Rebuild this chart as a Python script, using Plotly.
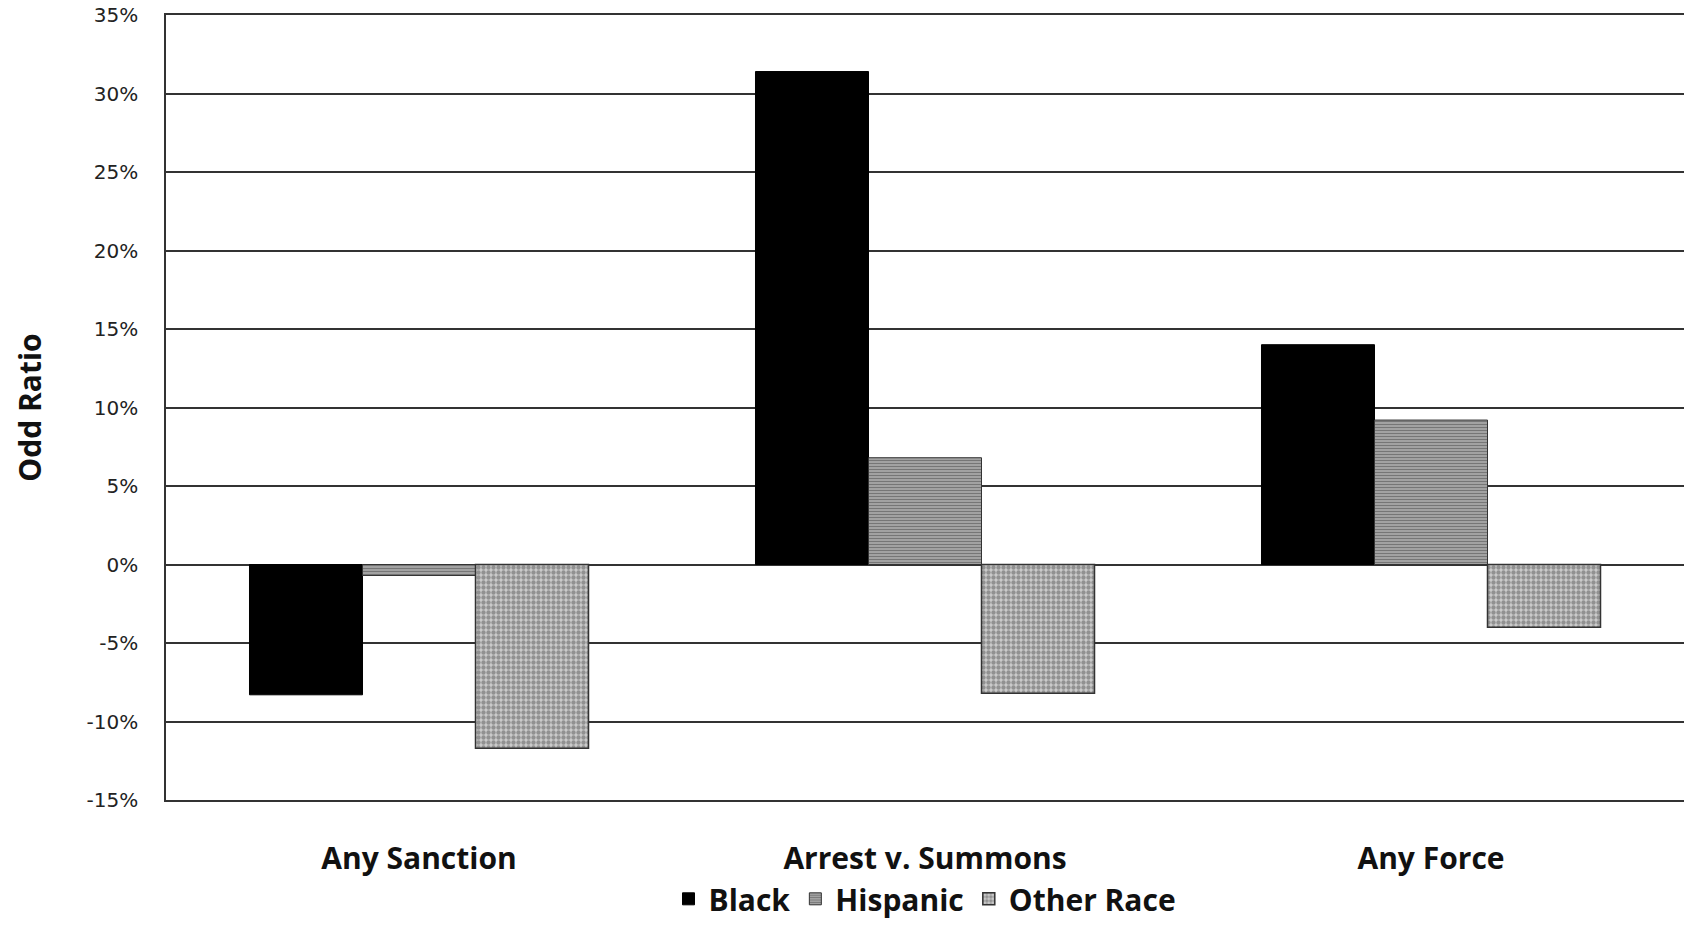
import plotly.graph_objects as go

categories = ["Any Sanction", "Arrest v. Summons", "Any Force"]
black = [-8.3, 31.4, 14.0]
hispanic = [-0.7, 6.8, 9.2]
other_race = [-11.7, -8.2, -4.0]
y_ticks = [-15, -10, -5, 0, 5, 10, 15, 20, 25, 30, 35]
y_tick_labels = [f"{v}%" for v in y_ticks]

bold_font = dict(family="Open Sans", size=30, color="#111111", weight="bold")

fig = go.Figure()
fig.add_trace(go.Bar(
    name="Black", x=categories, y=black,
    marker=dict(color="#000000", line=dict(color="#000000", width=1)),
))
fig.add_trace(go.Bar(
    name="Hispanic", x=categories, y=hispanic,
    marker=dict(
        color="#909090",
        line=dict(color="#333333", width=1),
        pattern=dict(shape="-", size=3, solidity=0.5, fgcolor="#3c3c3c", bgcolor="#b0b0b0"),
    ),
))
fig.add_trace(go.Bar(
    name="Other Race", x=categories, y=other_race,
    marker=dict(
        color="#bdbdbd",
        line=dict(color="#333333", width=1.5),
        pattern=dict(shape=".", size=5, solidity=0.6, fgcolor="#555555", bgcolor="#cccccc"),
    ),
))

fig.update_layout(
    width=1684, height=925,
    margin=dict(l=166, r=0, t=15, b=125),
    paper_bgcolor="white", plot_bgcolor="white",
    barmode="group", bargap=0.33, bargroupgap=0,
    showlegend=True,
    legend=dict(
        orientation="h", x=0.5, xanchor="center", y=-0.159, yanchor="bottom",
        font=bold_font, itemwidth=30, traceorder="normal",
        bgcolor="rgba(0,0,0,0)", borderwidth=0,
    ),
    xaxis=dict(
        showgrid=False, zeroline=False, automargin=False,
        showline=True, linecolor="#333333", linewidth=1.5, mirror=True,
        ticks="outside", ticklen=31, tickcolor="rgba(0,0,0,0)",
        tickfont=bold_font,
    ),
    yaxis=dict(
        range=[-15, 35], tickvals=y_ticks, ticktext=y_tick_labels, automargin=False,
        showgrid=True, gridcolor="#333333", gridwidth=1.5,
        zeroline=False, showline=True, linecolor="#333333", linewidth=1.5, mirror=False,
        ticks="outside", ticklen=22, tickcolor="rgba(0,0,0,0)",
        tickfont=dict(family="DejaVu Sans", size=20, color="#222222"),
        title=dict(text="Odd Ratio", standoff=36, font=bold_font),
    ),
)

fig.write_html("out.html")
